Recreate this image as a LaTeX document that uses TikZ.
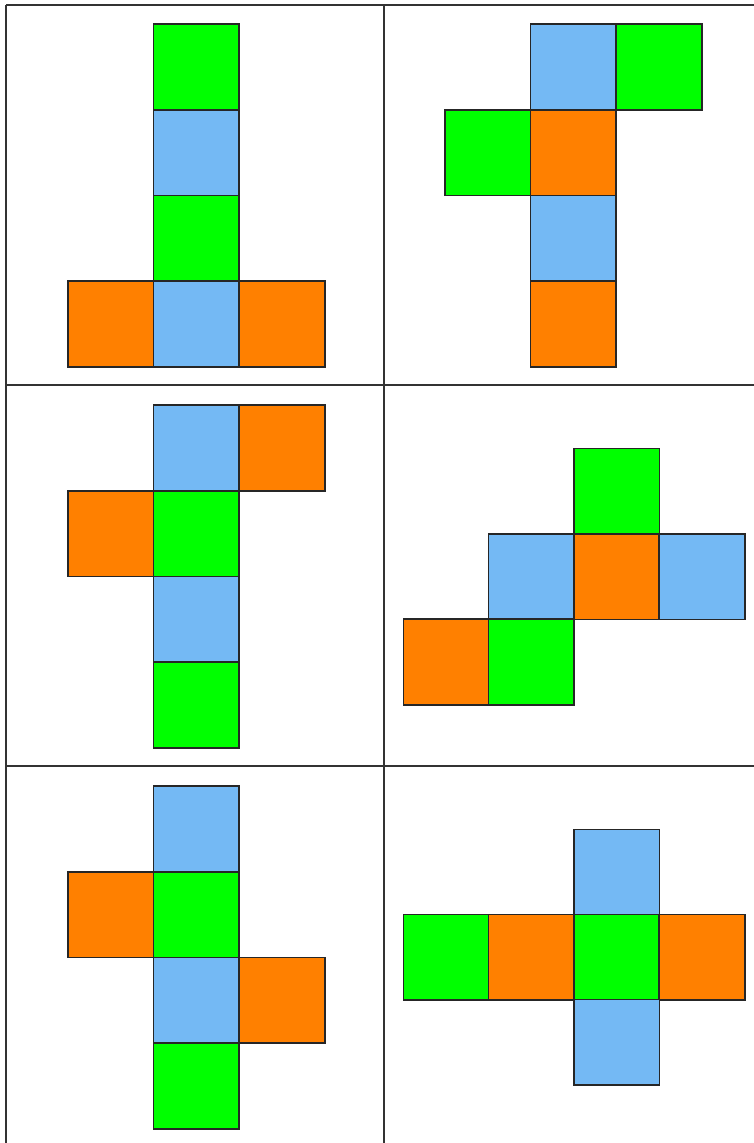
\documentclass[tikz,border=0pt]{standalone}
\usepackage{tikz}

\definecolor{netgreen}{RGB}{0,255,0}
\definecolor{netblue}{RGB}{116,185,244}
\definecolor{netorange}{RGB}{255,128,0}

\begin{document}
\begin{tikzpicture}[
    x=1pt, y=-1pt,
    face/.style={rectangle, draw=black!85, line width=1.8pt, minimum size=85.8pt, inner sep=0pt, anchor=north west},
    gface/.style={face, fill=netgreen},
    bface/.style={face, fill=netblue},
    oface/.style={face, fill=netorange},
    rule/.style={draw=black!80, line width=1.5pt}
]
    \useasboundingbox (0,0) rectangle (754,1143);

    % Table
    \coordinate (tl) at (6,5);
    \coordinate (tr) at (754,5);
    \coordinate (ml) at (6,385);
    \coordinate (mr) at (754,385);
    \coordinate (ll) at (6,766);
    \coordinate (lr) at (754,766);
    \coordinate (bl) at (6,1143);
    \coordinate (mt) at (384,5);
    \coordinate (mb) at (384,1143);
    \draw[rule] (tl) -- (tr);
    \draw[rule] (ml) -- (mr);
    \draw[rule] (ll) -- (lr);
    \draw[rule] (tl) -- (bl);
    \draw[rule] (mt) -- (mb);

    % Net 1
    \node[gface] (n1a) at (152.5,23) {};
    \node[bface] (n1b) at (152.5,108.8) {};
    \node[gface] (n1c) at (152.5,194.6) {};
    \node[oface] (n1d) at (66.7,280.4) {};
    \node[bface] (n1e) at (152.5,280.4) {};
    \node[oface] (n1f) at (238.3,280.4) {};

    % Net 2
    \node[bface] (n2a) at (529.5,23) {};
    \node[gface] (n2b) at (615.3,23) {};
    \node[gface] (n2c) at (443.7,108.8) {};
    \node[oface] (n2d) at (529.5,108.8) {};
    \node[bface] (n2e) at (529.5,194.6) {};
    \node[oface] (n2f) at (529.5,280.4) {};

    % Net 3
    \node[bface] (n3a) at (152.5,404) {};
    \node[oface] (n3b) at (238.3,404) {};
    \node[oface] (n3c) at (66.7,489.8) {};
    \node[gface] (n3d) at (152.5,489.8) {};
    \node[bface] (n3e) at (152.5,575.6) {};
    \node[gface] (n3f) at (152.5,661.4) {};

    % Net 4
    \node[gface] (n4a) at (572.7,447.5) {};
    \node[bface] (n4b) at (487.6,532.8) {};
    \node[oface] (n4c) at (572.7,532.8) {};
    \node[bface] (n4d) at (658.2,532.8) {};
    \node[oface] (n4e) at (402.5,618.1) {};
    \node[gface] (n4f) at (487.6,618.1) {};

    % Net 5
    \node[bface] (n5a) at (152.5,785) {};
    \node[oface] (n5b) at (66.7,870.8) {};
    \node[gface] (n5c) at (152.5,870.8) {};
    \node[bface] (n5d) at (152.5,956.6) {};
    \node[oface] (n5e) at (238.3,956.6) {};
    \node[gface] (n5f) at (152.5,1042.4) {};

    % Net 6
    \node[bface] (n6a) at (572.7,828.6) {};
    \node[gface] (n6b) at (402.5,913.6) {};
    \node[oface] (n6c) at (487.6,913.6) {};
    \node[gface] (n6d) at (572.7,913.6) {};
    \node[oface] (n6e) at (658.2,913.6) {};
    \node[bface] (n6f) at (572.7,998.6) {};
\end{tikzpicture}
\end{document}
